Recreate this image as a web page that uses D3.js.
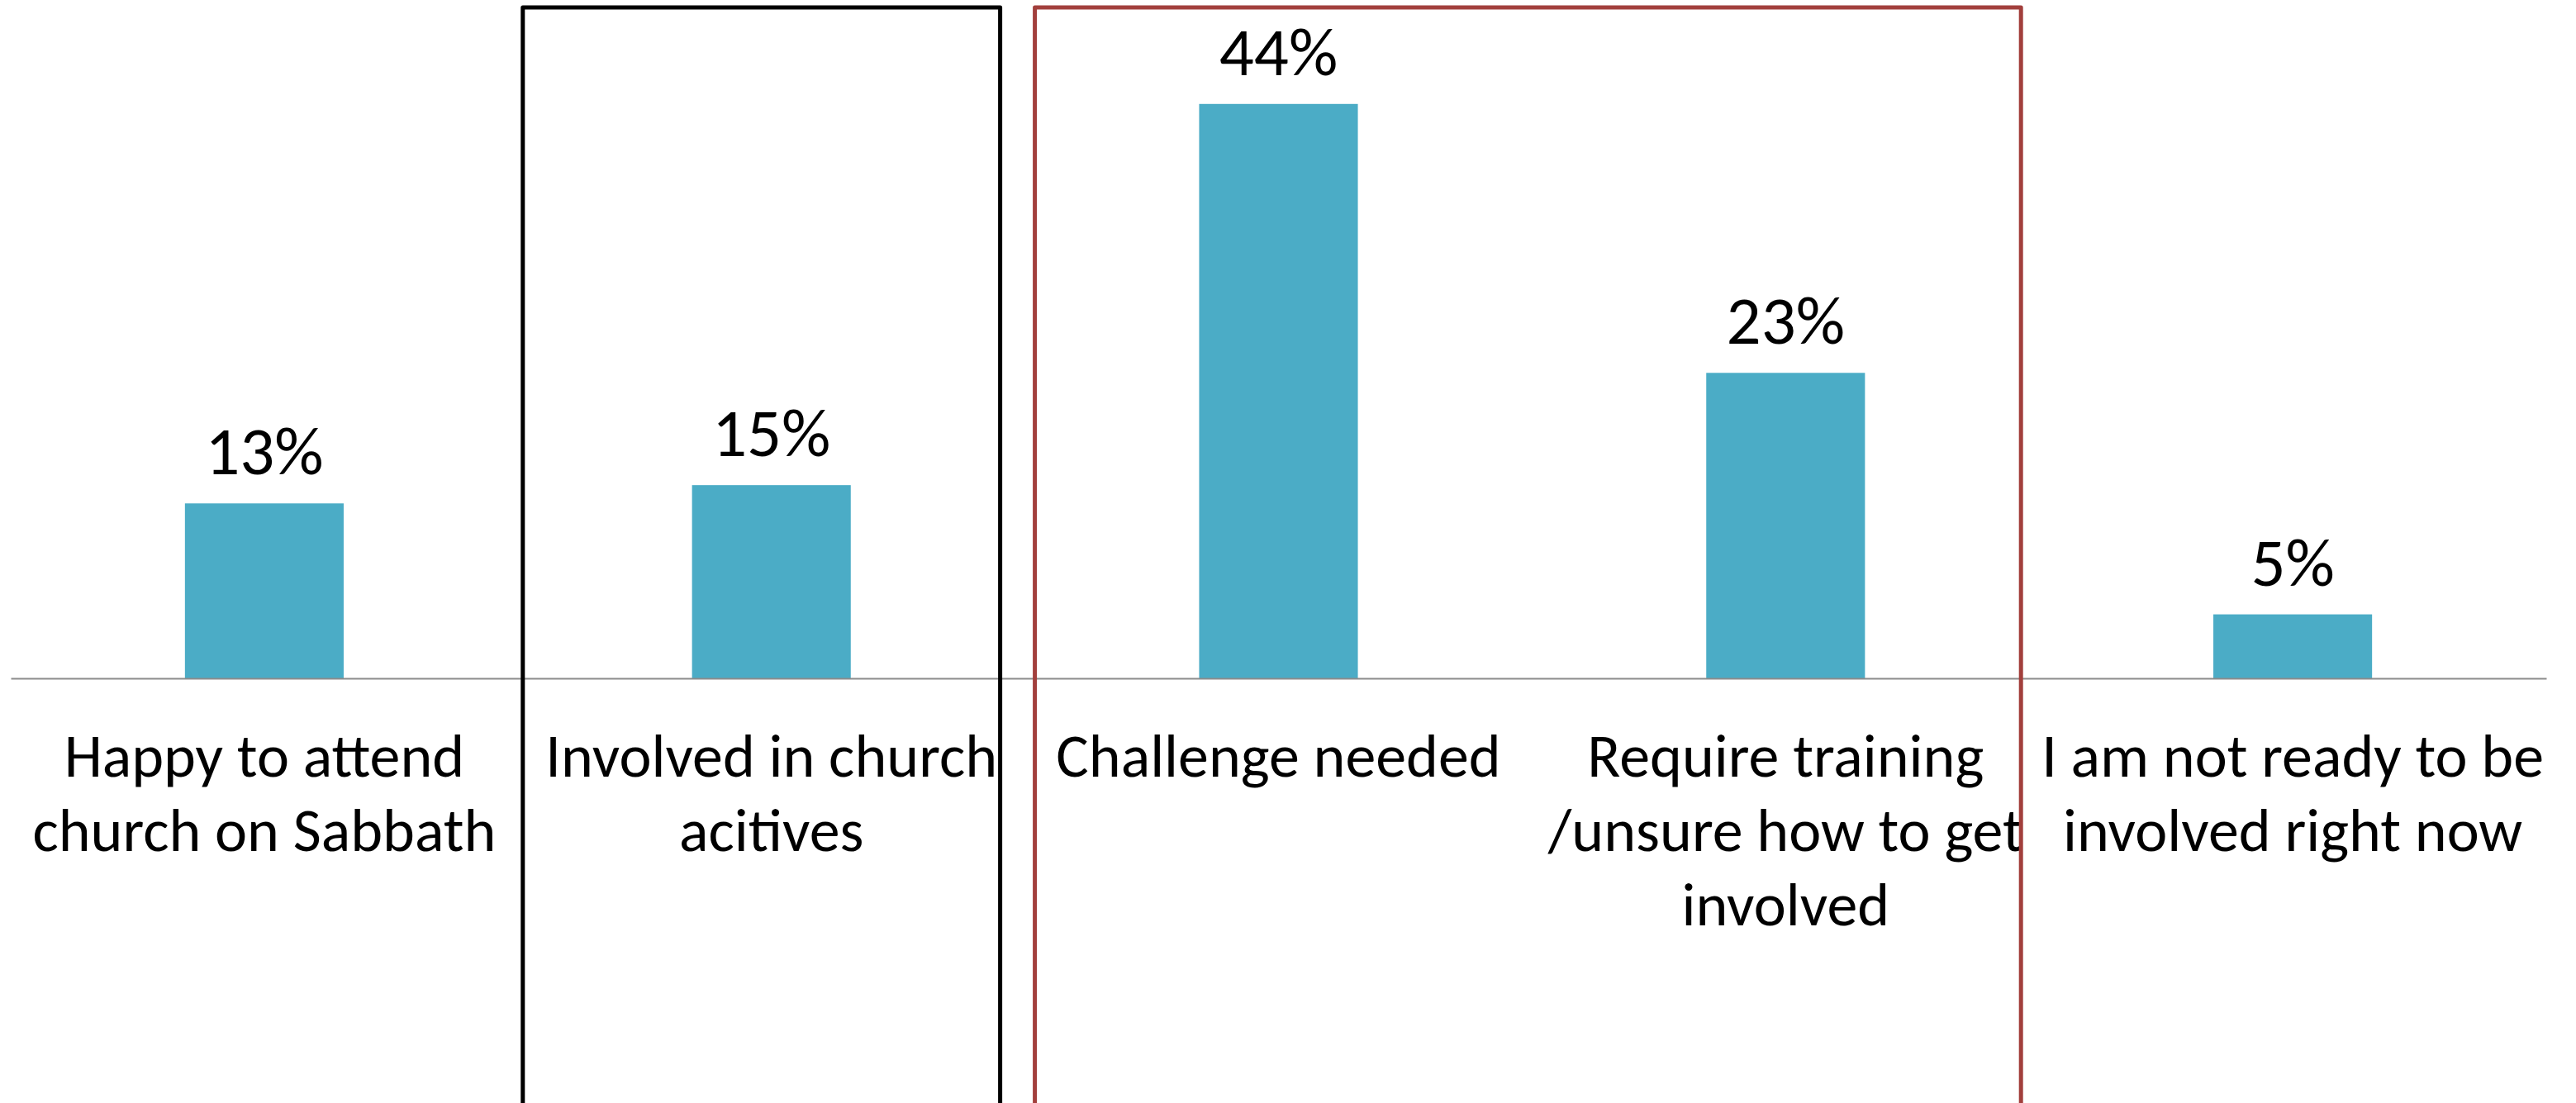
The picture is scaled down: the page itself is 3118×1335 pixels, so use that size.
<!DOCTYPE html>
<html>
<head>
<meta charset="utf-8">
<script src="https://cdn.jsdelivr.net/npm/d3@7"></script>
<style>
  html, body { margin: 0; padding: 0; background: #fff; }
  svg { display: block; }
  text { font-family: Carlito, Lato, "Open Sans", sans-serif; fill: #000; }
</style>
</head>
<body>
<svg id="chart" width="3118" height="1335"></svg>
<script>
// categories (each entry = lines of the wrapped label)
const categories = [
  ["Happy to attend", "church on Sabbath"],
  ["Involved in church", "acitives"],
  ["Challenge needed"],
  ["Require training", "/unsure how to get", "involved"],
  ["I am not ready to be", "involved right now"],
];
const values = [0.134, 0.148, 0.44, 0.234, 0.049];

// annotation boxes: which categories they surround
const boxes = [
  { from: 1, to: 1, color: "#000000", left: 6, right: -30 },
  { from: 2, to: 3, color: "#a23f3c", left: 12, right: -22 },
];

const data = values.map((v, i) => ({ key: i, lines: categories[i], value: v }));

const svg = d3.select("#chart");
const width = +svg.attr("width");
const height = +svg.attr("height");
const margin = { top: 31, right: 36, bottom: 514, left: 13 };

svg.append("rect").attr("width", width).attr("height", height).attr("fill", "#fff");

const x = d3
  .scaleBand()
  .domain(data.map((d) => d.key))
  .range([margin.left, width - margin.right])
  .paddingInner(0.687)
  .paddingOuter(0.3435);

const y = d3
  .scaleLinear()
  .domain([0, 0.5])
  .range([height - margin.bottom, margin.top]);

const fmt = d3.format(".0%");

// bars
svg
  .selectAll(".bar")
  .data(data)
  .enter()
  .append("rect")
  .attr("class", "bar")
  .attr("x", (d) => x(d.key))
  .attr("y", (d) => y(d.value))
  .attr("width", x.bandwidth())
  .attr("height", (d) => y(0) - y(d.value))
  .attr("fill", "#4bacc6");

// value labels
svg
  .selectAll(".value-label")
  .data(data)
  .enter()
  .append("text")
  .attr("class", "value-label")
  .attr("x", (d) => x(d.key) + x.bandwidth() / 2)
  .attr("y", (d) => y(d.value) - 35)
  .attr("text-anchor", "middle")
  .style("font-size", "83px")
  .text((d) => fmt(d.value));

// category axis (line + wrapped labels)
const xAxis = d3.axisBottom(x).tickSize(0).tickFormat("");
const axisG = svg
  .append("g")
  .attr("transform", `translate(0,${y(0)})`)
  .call(xAxis);
axisG.select(".domain").attr("stroke", "#8c8c8c").attr("stroke-width", 2);

axisG
  .selectAll(".tick")
  .append("text")
  .attr("text-anchor", "middle")
  .style("font-size", "74px")
  .each(function (k) {
    d3.select(this)
      .selectAll("tspan")
      .data(categories[k])
      .enter()
      .append("tspan")
      .attr("x", 0)
      .attr("y", (l, i) => 119 + i * 90)
      .text((l) => l);
  });

// highlight boxes
const step = x.step();
const bandStart = (i) => x(i) - x.paddingInner() * step / 2;
svg
  .selectAll(".box")
  .data(boxes)
  .enter()
  .append("rect")
  .attr("class", "box")
  .attr("x", (b) => bandStart(b.from) + b.left)
  .attr("y", 9)
  .attr("width", (b) => bandStart(b.to) + step + b.right - (bandStart(b.from) + b.left))
  .attr("height", height + 50)
  .attr("fill", "none")
  .attr("stroke", (b) => b.color)
  .attr("stroke-width", 5)
  .attr("stroke-linejoin", "round");
</script>
</body>
</html>
